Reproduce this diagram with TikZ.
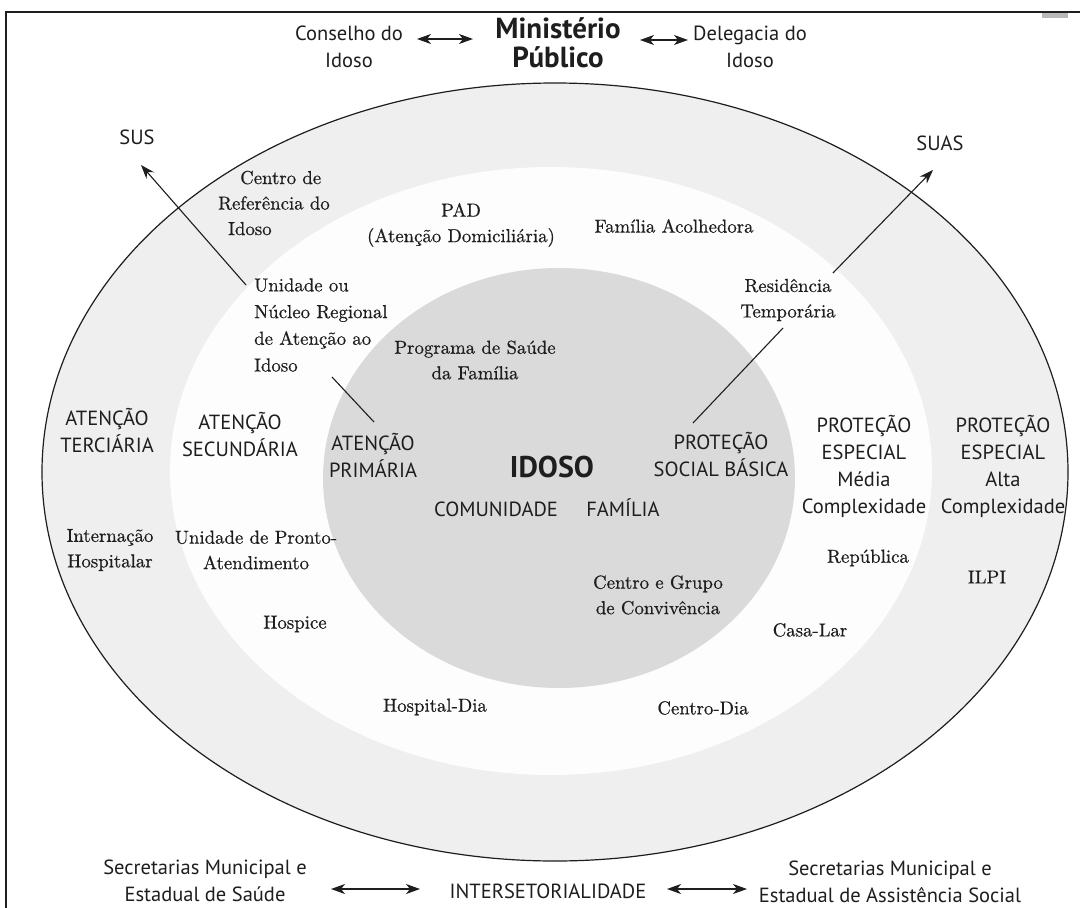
\documentclass[tikz,border=0pt]{standalone}
\usepackage{fontspec}
\setsansfont{PT Sans}
\newfontfamily\garfont{lmroman10-regular.otf}[FakeBold=0.6]
\usetikzlibrary{arrows.meta}
\definecolor{ringgray}{RGB}{239,239,239}
\definecolor{coregray}{RGB}{218,218,218}
\definecolor{bandwhite}{RGB}{253,253,253}
\definecolor{ink}{RGB}{30,30,30}
\begin{document}
\begin{tikzpicture}[x=1pt,y=-1pt,
  sanslbl/.style={font=\sffamily\fontsize{20.5}{27}\selectfont, align=center, text=ink, inner sep=0pt},
  seriflbl/.style={font=\garfont\fontsize{18.8}{25.5}\selectfont, align=center, text=ink, inner sep=0pt},
  conn/.style={line width=1.1pt, draw=ink},
  arr/.style={conn, -{Stealth[length=14pt,width=10pt]}},
  dbl/.style={line width=1.4pt, draw=ink, {Stealth[length=14pt,width=10pt,inset=4pt]}-{Stealth[length=14pt,width=10pt,inset=4pt]}},
]
\useasboundingbox (0,0) rectangle (1080,908);
\fill[white] (0,0) rectangle (1080,908);
% frame
\draw[line width=2pt, draw=ink] (6,908) -- (6,12) -- (1080,12);
\fill[gray!55] (1042,13) rectangle (1068,18);
% ellipses
\filldraw[fill=ringgray, draw=ink, line width=1.2pt] (555,472) ellipse [x radius=513pt, y radius=389pt];
\fill[bandwhite] (551,471) ellipse [x radius=381pt, y radius=304pt];
\fill[coregray] (559,478) ellipse [x radius=236pt, y radius=210pt];

% top
\node[sanslbl] (consel) at (349,47) {Conselho do\\Idoso};
\node[sanslbl, font=\sffamily\bfseries\fontsize{29}{29}\selectfont] (minist) at (558,43) {Ministério\\Público};
\node[sanslbl] (deleg) at (750,47) {Delegacia do\\Idoso};
\coordinate (consR) at (417,39);
\coordinate (minL) at (473,39);
\coordinate (minR) at (640,40);
\coordinate (delL) at (688,40);
\draw[dbl] (consR) -- (minL);
\draw[dbl] (minR) -- (delL);

% systems
\node[sanslbl] (sus) at (137,137) {SUS};
\node[sanslbl] (suas) at (940,143) {SUAS};

% serif labels
\node[seriflbl, align=left, anchor=west] (centroref) at (218,203) {\hspace*{22pt}Centro de\\Referência do\\\hspace*{10pt}Idoso};
\node[seriflbl] (pad) at (461,225) {PAD\\(Atenção Domiciliária)};
\node[seriflbl] (famacol) at (674,226) {Família Acolhedora};
\node[seriflbl, align=left, anchor=west, font=\garfont\fontsize{18.8}{26.7}\selectfont] (unidade) at (254,325) {Unidade ou\\Núcleo Regional\\de Atenção ao\\Idoso};
\node[seriflbl] (resid) at (788,300) {Residência\\Temporária};
\node[seriflbl] (programa) at (475,360) {Programa de Saúde\\da Família};

% levels
\node[sanslbl] (atTerc) at (107,431) {ATENÇÃO\\TERCIÁRIA};
\node[sanslbl] (atSec) at (240,435) {ATENÇÃO\\SECUNDÁRIA};
\node[sanslbl] (atPrim) at (373,455) {ATENÇÃO\\PRIMÁRIA};
\node[sanslbl, font=\sffamily\bfseries\fontsize{30}{32}\selectfont] (idoso) at (552,467) {IDOSO};
\node[sanslbl] (comun) at (496,509) {COMUNIDADE};
\node[sanslbl] (familia) at (623,508) {FAMÍLIA};
\node[sanslbl] (protSoc) at (721,455) {PROTEÇÃO\\SOCIAL BÁSICA};
\node[sanslbl] (protMed) at (864,466) {PROTEÇÃO\\ESPECIAL\\Média\\Complexidade};
\node[sanslbl] (protAlta) at (1003,466) {PROTEÇÃO\\ESPECIAL\\Alta\\Complexidade};

% services
\node[seriflbl] (intern) at (110,550) {Internação\\Hospitalar};
\node[seriflbl] (pronto) at (256,550) {Unidade de Pronto-\\Atendimento};
\node[seriflbl] (hospice) at (295,624) {Hospice};
\node[seriflbl] (hospdia) at (435,707) {Hospital-Dia};
\node[seriflbl] (centrogrupo) at (658,595) {Centro e Grupo\\de Convivência};
\node[seriflbl] (republica) at (868,558) {República};
\node[seriflbl] (ilpi) at (987,577) {ILPI};
\node[seriflbl] (casalar) at (810,630) {Casa-Lar};
\node[seriflbl] (centrodia) at (703,708) {Centro-Dia};

% connectors
\coordinate (susTail) at (246,285);
\coordinate (susTip) at (141,165);
\draw[arr] (susTail) -- (susTip);
\coordinate (unidEnd) at (332,377);
\coordinate (primEnd) at (374,422);
\draw[conn] (unidEnd) -- (primEnd);
\coordinate (suasTail) at (833,273);
\coordinate (suasTip) at (933,170);
\draw[arr] (suasTail) -- (suasTip);
\coordinate (residEnd) at (783,328);
\coordinate (socEnd) at (693,423);
\draw[conn] (residEnd) -- (socEnd);

% bottom
\node[sanslbl] (secSaude) at (205,881) {Secretarias Municipal e\\Estadual de Saúde};
\node[sanslbl] (interset) at (548,891) {INTERSETORIALIDADE};
\node[sanslbl] (secAssist) at (890,882) {Secretarias Municipal e\\Estadual de Assistência Social};
\coordinate (saudeR) at (331,889);
\coordinate (intL) at (420,889);
\coordinate (intR) at (667,889);
\coordinate (assistL) at (747,889);
\draw[dbl] (saudeR) -- (intL);
\draw[dbl] (intR) -- (assistL);
\end{tikzpicture}
\end{document}
